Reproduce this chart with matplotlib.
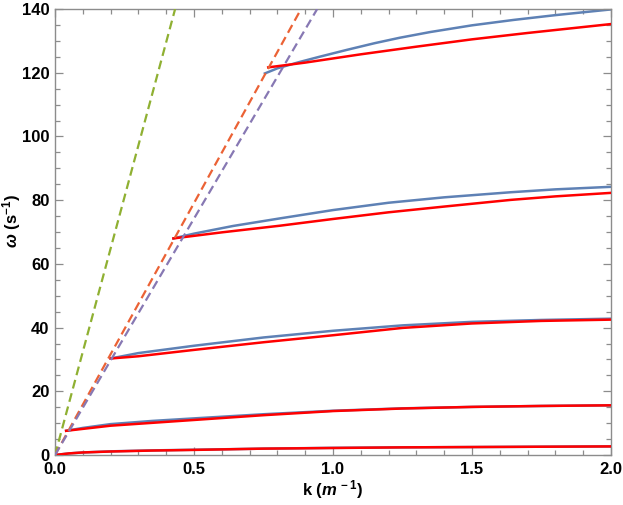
import matplotlib
matplotlib.use('Agg')
import matplotlib.pyplot as plt
from matplotlib.ticker import MultipleLocator

plt.rcParams['font.family'] = ['Liberation Sans', 'DejaVu Sans']
plt.rcParams['mathtext.fontset'] = 'custom'
plt.rcParams['mathtext.it'] = 'Liberation Sans:italic:bold'
plt.rcParams['mathtext.rm'] = 'Liberation Sans:bold'

# dashed light lines (omega = c k)
k_green = [0.0, 0.432]
w_green = [0.0, 140.0]
k_orange = [0.0, 0.885]
w_orange = [0.0, 140.0]
k_purple = [0.0, 0.943]
w_purple = [0.0, 140.0]

# branch 1
k1 = [0.0, 0.05, 0.1, 0.2, 0.35, 0.5, 0.75, 1.0, 1.25, 1.5, 1.75, 2.0]
blue1 = [0.0, 0.5, 0.8, 1.15, 1.45, 1.65, 2.0, 2.25, 2.4, 2.5, 2.6, 2.7]
red1 = [0.0, 0.5, 0.8, 1.1, 1.4, 1.6, 2.0, 2.2, 2.4, 2.5, 2.6, 2.7]

# branch 2
k2 = [0.04, 0.1, 0.2, 0.35, 0.5, 0.75, 1.0, 1.25, 1.5, 1.75, 2.0]
blue2 = [7.6, 8.5, 9.7, 10.7, 11.5, 12.8, 13.9, 14.65, 15.1, 15.4, 15.6]
red2 = [7.6, 8.2, 9.2, 10.1, 11.0, 12.5, 13.8, 14.6, 15.1, 15.4, 15.6]

# branch 3
k3 = [0.2, 0.3, 0.5, 0.75, 1.0, 1.25, 1.5, 1.75, 2.0]
blue3 = [30.3, 32.0, 34.3, 36.9, 39.0, 40.7, 41.8, 42.4, 42.8]
red3 = [30.3, 31.0, 33.0, 35.4, 37.6, 39.9, 41.3, 42.1, 42.5]

# branch 4
k4_blue = [0.426, 0.5, 0.64, 0.81, 1.0, 1.2, 1.4, 1.64, 1.8, 2.0]
blue4 = [68.0, 69.5, 71.9, 74.3, 76.9, 79.2, 80.9, 82.5, 83.4, 84.2]
k4_red = [0.426, 0.6, 0.81, 1.0, 1.2, 1.4, 1.64, 1.8, 2.0]
red4 = [68.0, 69.9, 72.0, 74.1, 76.2, 78.0, 80.1, 81.2, 82.3]

# branch 5
k5_blue = [0.755, 0.8, 0.88, 0.95, 1.05, 1.15, 1.24, 1.35, 1.5, 1.65, 1.8, 2.0]
blue5 = [119.8, 121.4, 123.4, 125.0, 127.2, 129.3, 131.0, 132.8, 134.9, 136.6, 138.1, 139.9]
k5_red = [0.767, 0.9, 1.1, 1.3, 1.5, 1.7, 1.85, 2.0]
red5 = [121.7, 123.2, 125.8, 128.2, 130.5, 132.5, 133.9, 135.3]

BLUE = '#5E81B5'
RED = '#FF0000'

fig = plt.figure(figsize=(6.23, 5.05), dpi=100)
ax = fig.add_axes([0.0883, 0.099, 0.8924, 0.883])

dash = (4, 2.2)
ax.plot(k_green, w_green, color='#8FB032', lw=1.6, dashes=dash, zorder=4)
ax.plot(k_orange, w_orange, color='#EB6235', lw=1.6, dashes=dash, zorder=4)
ax.plot(k_purple, w_purple, color='#8778B3', lw=1.6, dashes=dash, zorder=4)

for k, w in [(k1, blue1), (k2, blue2), (k3, blue3), (k4_blue, blue4), (k5_blue, blue5)]:
    ax.plot(k, w, color=BLUE, lw=1.8, zorder=2)
for k, w in [(k1, red1), (k2, red2), (k3, red3), (k4_red, red4), (k5_red, red5)]:
    ax.plot(k, w, color=RED, lw=1.8, zorder=3)

ax.set_xlim(0, 2)
ax.set_ylim(0, 140)
ax.xaxis.set_major_locator(MultipleLocator(0.5))
ax.xaxis.set_minor_locator(MultipleLocator(0.1))
ax.yaxis.set_major_locator(MultipleLocator(20))
ax.yaxis.set_minor_locator(MultipleLocator(5))
ax.xaxis.set_major_formatter(plt.FuncFormatter(lambda v, p: f'{v:.1f}'))

for s in ax.spines.values():
    s.set_color('#8c8c8c')
    s.set_linewidth(1.0)
ax.tick_params(which='both', direction='in', color='#8c8c8c', top=True, right=True,
               labelsize=12, width=0.9)
ax.tick_params(which='major', length=6)
ax.tick_params(which='minor', length=3.5)
ax.tick_params(axis='x', pad=5)
ax.tick_params(axis='y', pad=4)
for lab in ax.get_xticklabels() + ax.get_yticklabels():
    lab.set_fontweight('bold')

ax.set_xlabel(r'k ($m^{\,-1}$)', fontsize=12, fontweight='bold')
ax.set_ylabel(r'$\omega$ (s$^{-1}$)', fontsize=12, fontweight='bold')
ax.xaxis.set_label_coords(0.5, -0.052)
ax.yaxis.set_label_coords(-0.058, 0.525)

fig.savefig('out.png', dpi=100)
